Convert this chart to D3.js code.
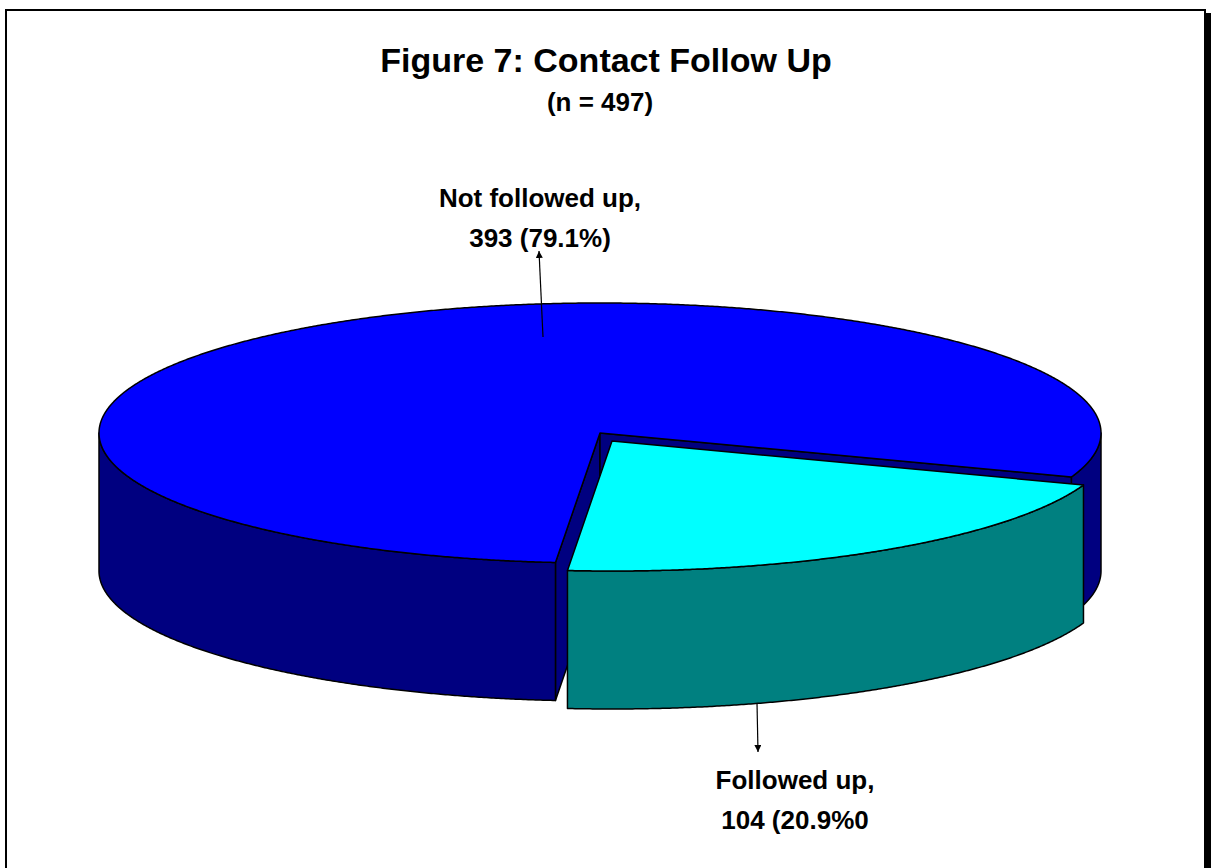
<!DOCTYPE html>
<html>
<head>
<meta charset="utf-8">
<script src="https://cdn.jsdelivr.net/npm/d3@7"></script>
<style>
  html, body { margin: 0; padding: 0; background: #fff; }
  svg { display: block; }
  text { font-family: Arial, "Liberation Sans", sans-serif; font-weight: bold; fill: #000; }
</style>
</head>
<body>
<svg id="chart" width="1211" height="868"></svg>
<script>
// ---- data ----
const categories = ["Not followed up", "Followed up"];
const values = [393, 104];
const labelLines = [["Not followed up,", "393 (79.1%)"], ["Followed up,", "104 (20.9%0"]];
const exploded = [false, true];
const topColors = ["#0000FF", "#00FFFF"];
const sideColors = ["#000080", "#008080"];
const titleText = "Figure 7: Contact Follow Up";
const subtitleText = "(n = 497)";

// ---- layout ----
const W = 1211, H = 868;
const cx = 600, cy = 433, rx = 501, ry = 130, depth = 138;
const explodeDX = 12, explodeDY = 8;
const startDeg = 185.1;

const svg = d3.select("#chart");

// frame with shadow
svg.append("rect").attr("x", 1205).attr("y", 13).attr("width", 6).attr("height", H).attr("fill", "#000");
svg.append("rect").attr("x", 6).attr("y", 10).attr("width", 1199).attr("height", H + 10)
  .attr("fill", "#fff").attr("stroke", "#000").attr("stroke-width", 2);

// titles
svg.append("text").attr("x", 606).attr("y", 72).attr("text-anchor", "middle")
  .attr("font-size", 34).text(titleText);
svg.append("text").attr("x", 600).attr("y", 111).attr("text-anchor", "middle")
  .attr("font-size", 26).text(subtitleText);

// pie angles
const pie = d3.pie().sort(null).value(d => d)
  .startAngle(startDeg * Math.PI / 180)
  .endAngle(startDeg * Math.PI / 180 + 2 * Math.PI);
const arcs = pie(values);

function pt(a, ox, oy, dz, r = 1) {
  return [cx + ox + rx * r * Math.sin(a), cy + oy - ry * r * Math.cos(a) + dz];
}
function arcPts(a0, a1, ox, oy, dz) {
  const n = Math.max(2, Math.ceil(Math.abs(a1 - a0) / 0.005));
  const s = d3.scaleLinear().domain([0, n]).range([a0, a1]);
  return d3.range(n + 1).map(i => pt(s(i), ox, oy, dz));
}
const line = d3.line();

function visibleRanges(a0, a1) {
  const out = [];
  for (let k = -1; k <= 2; k++) {
    const lo = Math.max(a0, Math.PI / 2 + 2 * Math.PI * k);
    const hi = Math.min(a1, 3 * Math.PI / 2 + 2 * Math.PI * k);
    if (hi > lo) out.push([lo, hi]);
  }
  return out;
}

const order = d3.range(arcs.length).sort((i, j) => (exploded[i] ? 1 : 0) - (exploded[j] ? 1 : 0));
const g = svg.append("g").attr("stroke", "#000").attr("stroke-width", 1.5).attr("stroke-linejoin", "round");

order.forEach(i => {
  const d = arcs[i];
  const ox = exploded[i] ? explodeDX : 0, oy = exploded[i] ? explodeDY : 0;
  const c0 = [cx + ox, cy + oy], c1 = [cx + ox, cy + oy + depth];
  // cut faces
  const faces = [];
  if (Math.sin(d.startAngle) < 0) faces.push(d.startAngle);
  if (Math.sin(d.endAngle) > 0) faces.push(d.endAngle);
  faces.forEach(a => {
    const p0 = pt(a, ox, oy, 0), p1 = pt(a, ox, oy, depth);
    g.append("path").attr("d", line([c0, p0, p1, c1]) + "Z").attr("fill", sideColors[i]);
  });
  // outer side
  visibleRanges(d.startAngle, d.endAngle).forEach(([lo, hi]) => {
    const pts = arcPts(lo, hi, ox, oy, 0).concat(arcPts(hi, lo, ox, oy, depth));
    g.append("path").attr("d", line(pts) + "Z").attr("fill", sideColors[i]);
  });
  // top
  const topPts = [c0].concat(arcPts(d.startAngle, d.endAngle, ox, oy, 0));
  g.append("path").attr("d", line(topPts) + "Z").attr("fill", topColors[i]);
});

// arrowheads
const defs = svg.append("defs");
defs.append("marker").attr("id", "arr").attr("viewBox", "0 0 10 10").attr("refX", 10).attr("refY", 5)
  .attr("markerWidth", 7).attr("markerHeight", 7).attr("markerUnits", "userSpaceOnUse").attr("orient", "auto")
  .append("path").attr("d", "M0,0L10,5L0,10Z").attr("fill", "#000");

// labels with leaders
const labelPos = [
  { x: 540, y: 207, from: [543, 337], to: [539, 251] },
  { x: 795, y: 789, from: [757, 703], to: [758, 752] }
];
labelLines.forEach((lines, i) => {
  const L = labelPos[i];
  svg.append("line").attr("x1", L.from[0]).attr("y1", L.from[1]).attr("x2", L.to[0]).attr("y2", L.to[1])
    .attr("stroke", "#000").attr("stroke-width", 1.2).attr("marker-end", "url(#arr)");
  const t = svg.append("text").attr("text-anchor", "middle").attr("font-size", 26);
  lines.forEach((s, k) => t.append("tspan").attr("x", L.x).attr("y", L.y + k * 40).text(s));
});
</script>
</body>
</html>
